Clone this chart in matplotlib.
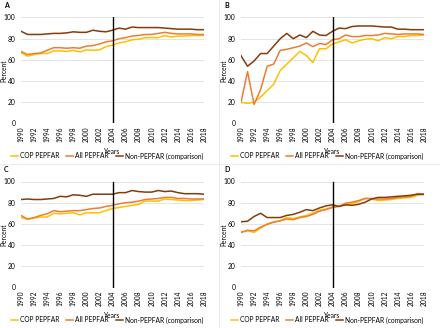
import numpy as np
import matplotlib.pyplot as plt
from matplotlib.lines import Line2D

years = list(range(1990, 2019))

# Panel A
a_cop = [67, 63.5, 65, 66, 66, 68.5, 68.5, 68, 69, 67.5, 69.5, 69, 69.5, 72.5, 74,
         76, 77, 79, 79.5, 81, 81, 81, 83, 81.5, 82.5, 82.5, 83, 83, 83]
a_all = [68, 65, 66, 66.5, 69, 71.5, 71.5, 71, 71.5, 71, 73, 73.5, 75, 77, 78,
         80, 81, 82.5, 83, 84, 84, 85, 86, 85, 84.5, 84.5, 84.5, 84, 84]
a_non = [87, 84, 84, 84, 84.5, 85, 85, 85.5, 86.5, 86, 86, 88, 87, 86.5, 88,
         90, 89, 91, 90.5, 90.5, 90.5, 90.5, 90, 89.5, 89, 89, 89, 88.5, 88.5]

# Panel B
b_cop = [20, 19, 20, 25, 31, 37, 50, 56, 62, 68, 64, 57.5, 70.5, 70.5, 75,
         77, 79, 76, 78, 79.5, 80, 78, 81, 80, 82, 82, 83, 83, 83.5]
b_all = [20, 49, 18, 32, 54, 56, 69, 70, 71.5, 73, 76, 72.5, 75.5, 74.5, 79,
         80, 83.5, 82, 82, 83, 83, 83.5, 85, 84.5, 84, 84.5, 84.5, 84.5, 84]
b_non = [64, 54, 59, 66, 66, 73, 80, 85, 80, 83.5, 81, 87, 83.5, 83, 87,
         90, 89.5, 91.5, 92, 92, 92, 91.5, 91, 91, 89, 89, 88.5, 88.5, 88.5]

# Panel C
c_cop = [66, 64.5, 65.5, 66.5, 66.5, 70, 69.5, 70, 70.5, 68.5, 70.5, 70.5, 70.5, 72.5, 74.5,
         75.5, 76.5, 77.5, 78.5, 81.5, 81.5, 81.5, 83.5, 83, 82.5, 82, 82, 82.5, 83]
c_all = [68, 64.5, 66, 68, 69.5, 72.5, 71.5, 72, 72.5, 72.5, 73.5, 74.5, 75, 76.5, 77.5,
         79, 80, 80.5, 81.5, 83, 83.5, 84, 85, 85, 84, 84, 83.5, 83.5, 83.5]
c_non = [83, 83.5, 83, 83, 83.5, 84, 86, 85.5, 87.5, 87, 86, 88, 88, 88, 88,
         89.5, 89.5, 91.5, 90.5, 90, 90, 91.5, 90.5, 91, 89.5, 88.5, 88.5, 88.5, 88]

# Panel D
d_cop = [52, 53.5, 52, 56, 60, 62, 63, 66, 65, 66.5, 68, 70, 73, 74, 76,
         77, 78, 79, 81, 84, 83.5, 82, 82.5, 83, 84, 84.5, 85, 87, 87.5]
d_all = [52, 54, 53.5, 57, 59.5, 61.5, 63, 64.5, 64, 66, 67, 69, 72, 73.5, 75.5,
         76.5, 79.5, 80.5, 82, 84, 84, 83.5, 83.5, 84, 85, 85.5, 86, 88.5, 88]
d_non = [62, 62.5, 67, 70, 66, 66, 66, 68, 69, 71, 73.5, 72.5, 75, 77, 78,
         76.5, 78, 77.5, 78.5, 80.5, 83.5, 85, 85, 85.5, 86, 86.5, 87, 88, 88]

panels = {'A': (a_cop, a_all, a_non), 'B': (b_cop, b_all, b_non),
          'C': (c_cop, c_all, c_non), 'D': (d_cop, d_all, d_non)}
labels = ['COP PEPFAR', 'All PEPFAR', 'Non-PEPFAR (comparison)']
colors = ['#FFC000', '#ED7D31', '#843C0C']

plt.rcParams['font.family'] = 'Lato'
fs = 4.8

W, H = 440, 328
fig = plt.figure(figsize=(W / 100, H / 100), dpi=100)

offsets = {'A': (0, 0), 'B': (220, 0), 'C': (0, 164), 'D': (220, 164)}
for name, (ox, oy) in offsets.items():
    left, right, top, bottom = ox + 21, ox + 204, oy + 17.5, oy + 123.5
    ax = fig.add_axes([left / W, 1 - bottom / H, (right - left) / W, (bottom - top) / H])
    for vals, col in zip(panels[name], colors):
        ax.plot(years, vals, color=col, lw=1.1)
    ax.axvline(2004, color='black', lw=1.0)
    ax.set_xlim(1990, 2018)
    ax.set_ylim(0, 100)
    ax.set_yticks(range(0, 101, 20))
    ax.set_xticks(range(1990, 2019, 2))
    ax.tick_params(axis='x', labelrotation=90, labelsize=fs, length=0, pad=2)
    ax.tick_params(axis='y', labelsize=fs, length=0, pad=4)
    ax.grid(axis='y', color='#d9d9d9', lw=0.5)
    ax.set_axisbelow(True)
    for s in ax.spines.values():
        s.set_visible(False)
    ax.set_ylabel('Percent', fontsize=fs)
    ax.yaxis.set_label_coords(-14 / (right - left), 0.5)
    ax.set_xlabel('Years', fontsize=fs)
    ax.xaxis.set_label_coords(0.5, -(148 - 123.5) / (bottom - top))
    fig.text((ox + 4) / W, 1 - (oy + 6) / H, name, fontsize=5, fontweight='bold',
             va='center', ha='left')
    handles = [Line2D([0], [0], color=c, lw=1.1) for c in colors]
    fig.legend(handles, labels, loc='center', bbox_to_anchor=((ox + 107) / W, 1 - (oy + 156) / H),
               ncol=3, frameon=False, fontsize=fs, handlelength=1.0, handletextpad=0.3,
               columnspacing=1.1, borderpad=0, borderaxespad=0)

# thin separators between panels
fig.add_artist(Line2D([219 / W, 219 / W], [0, 1], color='#e6e6e6', lw=0.6))
fig.add_artist(Line2D([0, 1], [1 - 164 / H, 1 - 164 / H], color='#e6e6e6', lw=0.6))

fig.savefig('out.png', dpi=100)
